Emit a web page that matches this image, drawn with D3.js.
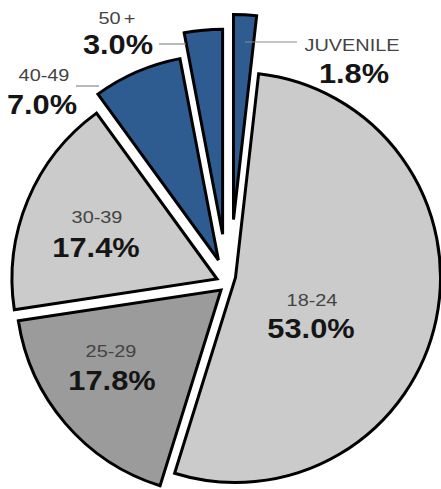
<!DOCTYPE html>
<html>
<head>
<meta charset="utf-8">
<script src="https://cdn.jsdelivr.net/npm/d3@7"></script>
<style>
  html, body { margin: 0; padding: 0; background: #fff; }
  svg { display: block; }
</style>
</head>
<body>
<svg id="chart" width="441" height="489"></svg>
<script>
// ---- data ----
const categories = ["JUVENILE", "18-24", "25-29", "30-39", "40-49", "50 +"];
const values = [1.8, 53.0, 17.8, 17.4, 7.0, 3.0];
const percentLabels = ["1.8%", "53.0%", "17.8%", "17.4%", "7.0%", "3.0%"];

// ---- styles / layout ----
const sliceColors = ["#2e5c91", "#cbcbcb", "#9b9b9b", "#cbcbcb", "#2e5c91", "#2e5c91"];
// per-slice explode offsets [dx, dy]
const explodeOffsets = [[6.5, -58.5], [8.5, -0.5], [-6, 12], [-10, 1], [-8.6, -18], [-4.4, -43.8]];
const center = [227, 278];
const radius = 205;
// label layout: [nameX, nameBaseline, pctX, pctBaseline]
const labelLayout = [
  [352, 51, 354, 83],
  [312, 306, 311, 338],
  [111, 357, 112, 390],
  [97, 223, 96, 257],
  [44, 81, 42, 114],
  [117, 24, 118, 54]
];
// leader lines: [x1, y1, x2, y2] (null = none)
const leaders = [
  [245, 42, 297, 42],
  null, null, null,
  [76, 86, 99, 86],
  [159, 44, 186, 44]
];

const svg = d3.select("#chart");
const pie = d3.pie().sort(null).startAngle(0).endAngle(2 * Math.PI);
const arcs = pie(values);
const arc = d3.arc().innerRadius(0).outerRadius(radius);

const g = svg.append("g").attr("transform", `translate(${center[0]},${center[1]})`);

g.selectAll("path.slice")
  .data(arcs)
  .join("path")
  .attr("class", "slice")
  .attr("d", arc)
  .attr("transform", (d, i) => `translate(${explodeOffsets[i][0]},${explodeOffsets[i][1]})`)
  .attr("fill", (d, i) => sliceColors[i])
  .attr("stroke", "#000")
  .attr("stroke-width", 3)
  .attr("stroke-linejoin", "miter");

// leader lines
svg.selectAll("line.leader")
  .data(leaders.filter(l => l))
  .join("line")
  .attr("class", "leader")
  .attr("x1", d => d[0]).attr("y1", d => d[1])
  .attr("x2", d => d[2]).attr("y2", d => d[3])
  .attr("stroke", "#8a8a8a")
  .attr("stroke-width", 1.2);

// labels
const lab = svg.selectAll("g.lab").data(categories).join("g").attr("class", "lab");
lab.append("text")
  .attr("transform", (d, i) => `translate(${labelLayout[i][0]},${labelLayout[i][1]}) scale(1.17,1)`)
  .attr("text-anchor", "middle")
  .attr("font-family", "'Liberation Sans', Arial, Helvetica, sans-serif")
  .attr("font-size", 17)
  .attr("word-spacing", -2)
  .attr("fill", "#444")
  .text(d => d);
lab.append("text")
  .attr("transform", (d, i) => `translate(${labelLayout[i][2]},${labelLayout[i][3]}) scale(1.1,1)`)
  .attr("text-anchor", "middle")
  .attr("font-family", "'Liberation Sans', Arial, Helvetica, sans-serif")
  .attr("font-weight", "bold")
  .attr("font-size", 28)
  .attr("fill", "#151515")
  .text((d, i) => percentLabels[i]);
</script>
</body>
</html>
